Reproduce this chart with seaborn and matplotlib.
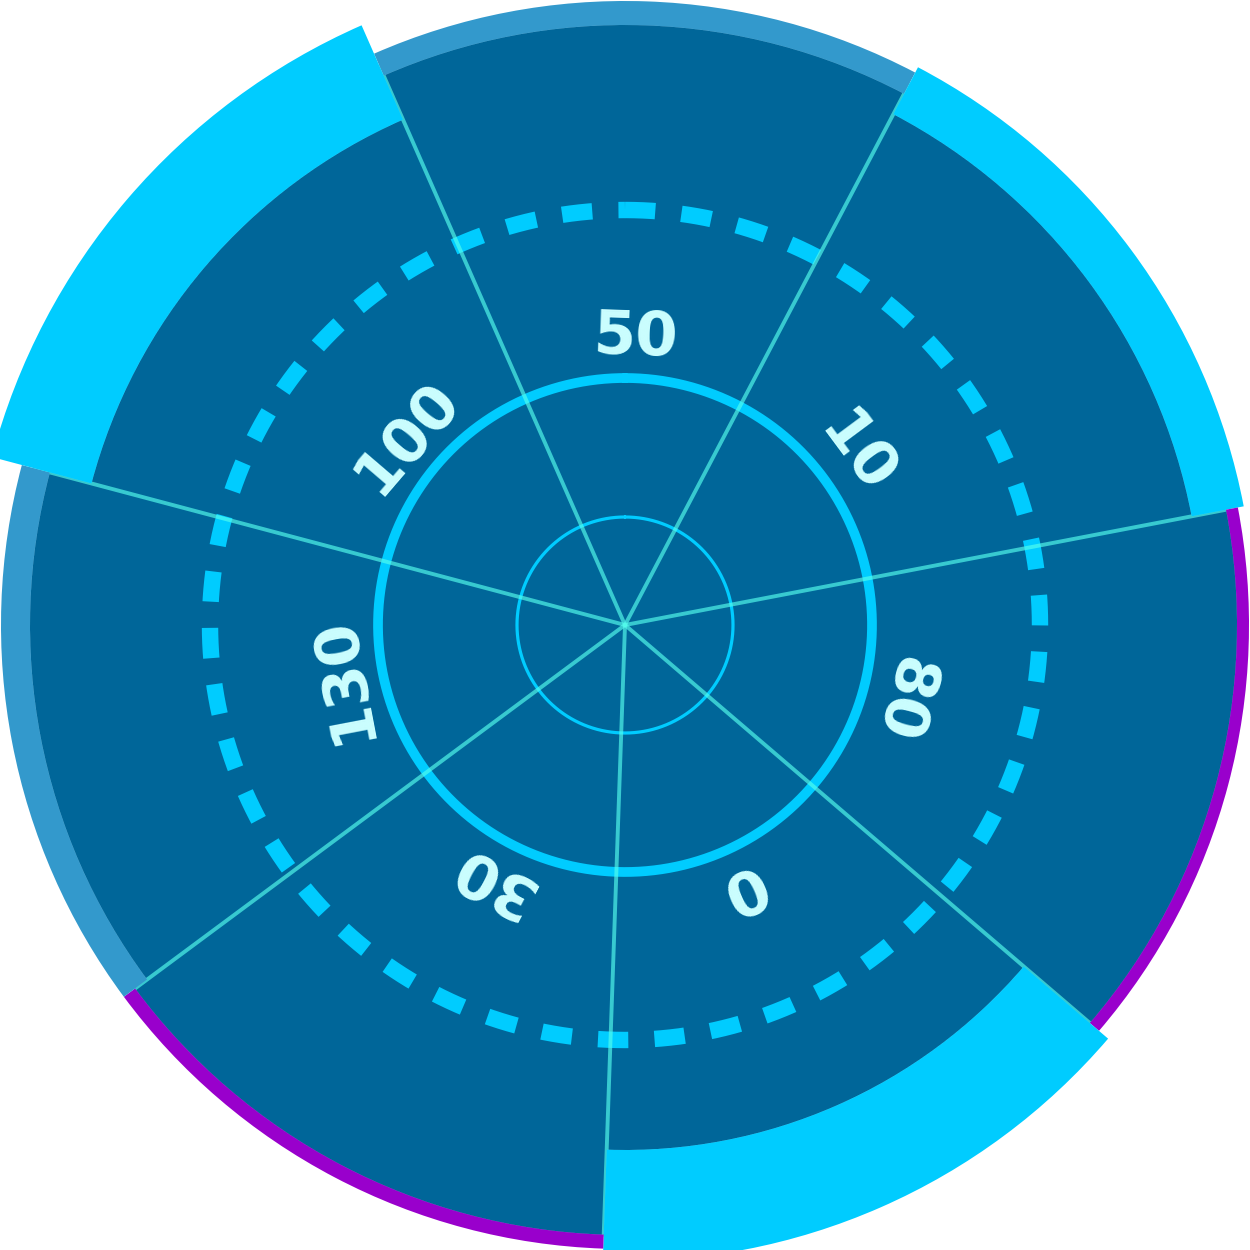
import numpy as np
import matplotlib
matplotlib.use('Agg')
import matplotlib.pyplot as plt
import seaborn as sns

sns.set_theme(style='white')
plt.rcParams['font.family'] = ['DejaVu Sans']

# Data (clockwise from the top)
labels = ['50', '10', '80', '0', '30', '130', '100']
inner_radius = [600, 577, 612, 525, 610, 595, 552]
outer_radius = [624, 630, 624, 636, 624, 624, 655]
band_colors = ['#3399CC', '#00CCFF', '#9900CC', '#00CCFF', '#9900CC', '#3399CC', '#00CCFF']

dark = '#006699'
cyan = '#00CCFF'

n = len(labels)
width = 2 * np.pi / n
offset = np.deg2rad(2)
theta = offset + np.arange(n) * width
bounds = theta - width / 2

fig = plt.figure(figsize=(12.5, 12.5), dpi=100)
ax = fig.add_axes([-0.1, -0.1, 1.2, 1.2], projection='polar')
ax.set_theta_zero_location('N')
ax.set_theta_direction(-1)
ax.set_ylim(0, 750)
ax.axis('off')

inner = np.array(inner_radius)
outer = np.array(outer_radius)

# dark sectors
ax.bar(theta, inner, width=width, color=dark, edgecolor=dark, linewidth=0.5, zorder=1)

# rings
t = np.linspace(0, 2 * np.pi, 1441)
ax.plot(t, np.full_like(t, 108), color=cyan, lw=2.3, zorder=2)
ax.plot(t, np.full_like(t, 247), color=cyan, lw=7.0, zorder=2)
ax.plot(t, np.full_like(t, 415), color=cyan, lw=11.8, zorder=2,
        dashes=(1.85, 1.6), dash_capstyle='butt')

# separators
for b in bounds:
    ax.plot([b, b], [0, max(inner_radius)], color='#55FFEE', alpha=0.65,
            lw=2.8, solid_capstyle='butt', zorder=3)

# outer bands
ax.bar(theta, outer - inner, bottom=inner, width=width, color=band_colors,
       linewidth=0, zorder=4)

# labels
for th, lab in zip(theta, labels):
    ax.text(th, 287, lab, color='#CCFFFF', fontsize=44, fontweight='bold',
            ha='center', va='center', rotation=-np.rad2deg(th),
            rotation_mode='anchor', zorder=5)

fig.savefig('out.png', dpi=100, facecolor='white')
